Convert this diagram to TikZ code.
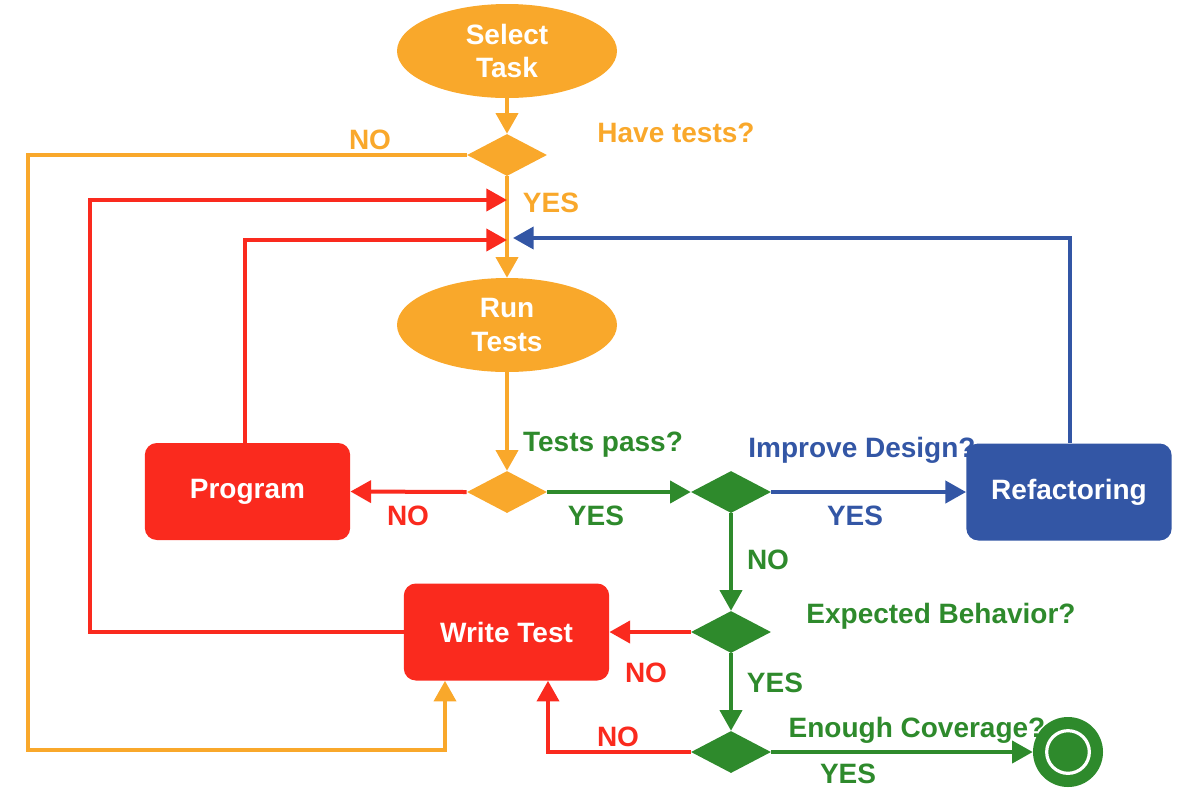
\documentclass[tikz,border=0pt]{standalone}
\usepackage{fontspec}
\setmainfont{Liberation Sans}
\usetikzlibrary{shapes.geometric,arrows.meta}
\definecolor{cor}{RGB}{249,168,43}
\definecolor{cred}{RGB}{250,42,30}
\definecolor{cgreen}{RGB}{46,138,44}
\definecolor{cblue}{RGB}{51,86,165}
\tikzset{
  lbl/.style={font=\fontsize{21}{24}\selectfont\bfseries, inner sep=0pt},
  oval/.style={ellipse, fill=cor, minimum width=165pt, minimum height=70.5pt, inner sep=0pt, align=center, text=white, font=\fontsize{21}{25}\selectfont\bfseries},
  box/.style={rounded corners=9pt, minimum width=154pt, minimum height=72.75pt, inner sep=0pt, text=white, font=\fontsize{21}{24}\selectfont\bfseries},
  dec/.style={diamond, minimum width=60pt, minimum height=31.5pt, inner sep=0pt, aspect=2},
  arr/.style={line width=3pt, -{Triangle[length=15.5pt,width=16.5pt]}},
}
\begin{document}
\begin{tikzpicture}[x=0.75pt,y=-0.75pt]
\useasboundingbox (0,0) rectangle (1180,794);
% nodes
\node[oval] (st) at (507,51) {Select\\Task};
\node[dec, fill=cor] (d1) at (507,155) {};
\node[oval] (rt) at (507,325) {Run\\Tests};
\node[dec, fill=cor] (d2) at (507,492) {};
\node[dec, fill=cgreen] (d3) at (731,492) {};
\node[dec, fill=cgreen] (d4) at (731,632) {};
\node[dec, fill=cgreen] (d5) at (731,752) {};
\node[box, fill=cred] (prog) at (247.5,491.5) {Program};
\node[box, fill=cblue] (ref) at (1069,492) {Refactoring};
\node[box, fill=cred] (wt) at (506.5,632) {Write Test};
\node[circle, fill=cgreen, minimum size=52.5pt, inner sep=0pt] (end) at (1068,752) {};
\draw[white, line width=2.4pt] (end.center) circle[radius=16pt];
% junction coordinates
\coordinate (j1) at (507,200);
\coordinate (j2) at (507,240);
\coordinate (j3) at (513,238);
\coordinate (a1) at (28,155);
\coordinate (a2) at (28,750);
\coordinate (a3) at (445,750);
\coordinate (b1) at (90,632);
\coordinate (b2) at (90,200);
\coordinate (c1) at (245,240);
\coordinate (e1) at (1070,238);
\coordinate (f1) at (548,752);
% connectors
\draw[arr, cor] (st) -- (d1);
\draw[arr, cor] (d1) -- (rt);
\draw[arr, cor] (d1.west) -- (a1) -- (a2) -- (a3) -- (a3 |- wt.south);
\draw[arr, cor] (rt) -- (d2);
\draw[arr, cred] (wt.west) -- (b1) -- (b2) -- (j1);
\draw[arr, cred] (c1 |- prog.north) -- (c1) -- (j2);
\draw[arr, cblue] (e1 |- ref.north) -- (e1) -- (j3);
\draw[arr, cred] (d2.west) -- (prog.east);
\draw[arr, cgreen] (d2.east) -- (d3.west);
\draw[arr, cblue] (d3.east) -- (ref.west);
\draw[arr, cgreen] (d3.south) -- (d4.north);
\draw[arr, cred] (d4.west) -- (wt.east);
\draw[arr, cgreen] (d4.south) -- (d5.north);
\draw[arr, cred] (d5.west) -- (f1) -- (f1 |- wt.south);
\draw[arr, cgreen] (d5.east) -- (end.west);
% labels
\node[lbl, text=cor] (l1) at (676,133) {Have tests?};
\node[lbl, text=cor] (l2) at (370,140) {NO};
\node[lbl, text=cor] (l3) at (551,203) {YES};
\node[lbl, text=cgreen] (l4) at (603,445) {Tests pass?};
\node[lbl, text=cblue] (l5) at (862,450) {Improve Design?};
\node[lbl, text=cred] (l6) at (408,516) {NO};
\node[lbl, text=cgreen] (l7) at (596,516) {YES};
\node[lbl, text=cblue] (l8) at (855,516) {YES};
\node[lbl, text=cgreen] (l9) at (768,560) {NO};
\node[lbl, text=cgreen] (l10) at (941,616) {Expected Behavior?};
\node[lbl, text=cred] (l11) at (646,673) {NO};
\node[lbl, text=cgreen] (l12) at (775,683) {YES};
\node[lbl, text=cred] (l13) at (618,737) {NO};
\node[lbl, text=cgreen] (l14) at (917,730) {Enough Coverage?};
\node[lbl, text=cgreen] (l15) at (848,774) {YES};
\end{tikzpicture}
\end{document}
